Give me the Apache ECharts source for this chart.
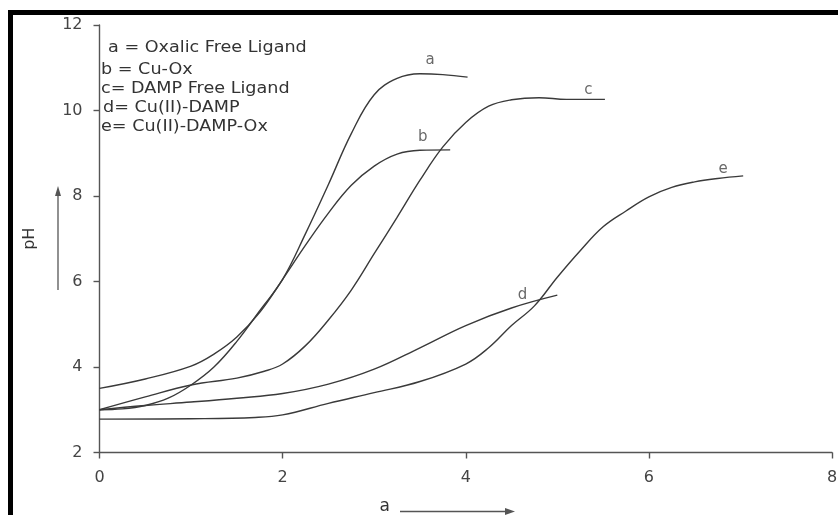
<!DOCTYPE html>
<html>
<head>
<meta charset="utf-8">
<script src="https://cdn.jsdelivr.net/npm/echarts@6/dist/echarts.min.js"></script>
<style>
html,body{margin:0;padding:0;background:#fff;}
#chart{width:838px;height:515px;}
</style>
</head>
<body>
<div id="chart"></div>
<script>
// ---- data ----
const xTicks = [0, 2, 4, 6, 8];
const yTicks = [2, 4, 6, 8, 10, 12];
const curveA = [[0,3.0],[0.25,3.02],[0.5,3.1],[0.75,3.27],[1.0,3.58],[1.25,4.0],[1.5,4.6],[1.75,5.32],[2.0,6.05],[2.25,7.12],[2.5,8.27],[2.75,9.46],[3.0,10.37],[3.25,10.75],[3.5,10.86],[3.75,10.84],[4.02,10.78]];
const curveB = [[0,3.5],[0.5,3.72],[1.0,4.02],[1.25,4.3],[1.5,4.7],[1.75,5.28],[2.0,6.05],[2.25,6.85],[2.5,7.6],[2.75,8.25],[3.0,8.7],[3.25,8.98],[3.5,9.07],[3.83,9.08]];
const curveC = [[0,3.0],[0.5,3.3],[1.0,3.58],[1.5,3.74],[1.8,3.9],[2.0,4.07],[2.25,4.5],[2.5,5.1],[2.75,5.8],[3.0,6.65],[3.25,7.5],[3.5,8.37],[3.75,9.15],[4.0,9.72],[4.25,10.1],[4.5,10.25],[4.8,10.3],[5.1,10.26],[5.52,10.26]];
const curveD = [[0,3.0],[0.5,3.1],[1.0,3.18],[1.5,3.27],[2.0,3.38],[2.5,3.6],[3.0,3.95],[3.5,4.45],[4.0,4.97],[4.5,5.38],[5.0,5.68]];
const curveE = [[0,2.78],[1.0,2.79],[1.7,2.82],[2.0,2.88],[2.5,3.15],[3.0,3.4],[3.5,3.66],[4.0,4.07],[4.25,4.45],[4.5,4.97],[4.75,5.43],[5.0,6.1],[5.25,6.72],[5.5,7.28],[5.75,7.65],[6.0,7.98],[6.25,8.2],[6.5,8.33],[6.75,8.41],[7.03,8.47]];
const curveNames = ['a', 'b', 'c', 'd', 'e'];
const curveLabelPos = [[3.61,11.18],[3.53,9.38],[5.34,10.48],[4.62,5.68],[6.81,8.63]];
const legendLines = ['a = Oxalic Free Ligand', 'b = Cu-Ox', 'c= DAMP Free Ligand', 'd= Cu(II)-DAMP', 'e= Cu(II)-DAMP-Ox'];
const xTitle = 'a';
const yTitle = 'pH';

// ---- chart ----
const chart = echarts.init(document.getElementById('chart'), null, {renderer: 'canvas'});
const ink = '#3a3a3a';
const font = 'DejaVu Sans';
const curves = [curveA, curveB, curveC, curveD, curveE];

const series = curves.map((d, i) => ({
  type: 'line',
  name: curveNames[i],
  data: d,
  smooth: 0.4,
  symbol: 'none',
  lineStyle: {color: ink, width: 1.4},
  z: 3
}));
series.push({
  type: 'scatter',
  data: curveLabelPos.map((p, i) => ({value: p, name: curveNames[i]})),
  symbolSize: 0,
  label: {show: true, position: 'inside', formatter: '{b}', color: '#444', fontSize: 15, fontFamily: font},
  silent: true,
  z: 4
});

const legendX = [108, 101, 101, 103, 101];
const legendY = [48, 70, 89, 108, 127];

const graphics = [
  {type: 'rect', shape: {x: 10.5, y: 12.5, width: 900, height: 600}, style: {fill: 'none', stroke: '#000', lineWidth: 5}, z: 10},
  // y-title arrow
  {type: 'line', shape: {x1: 58, y1: 290, x2: 58, y2: 192}, style: {stroke: '#555', lineWidth: 1.3}},
  {type: 'polygon', shape: {points: [[58, 186], [55, 196], [61, 196]]}, style: {fill: '#555'}},
  // x-title arrow
  {type: 'line', shape: {x1: 400, y1: 511.5, x2: 508, y2: 511.5}, style: {stroke: '#555', lineWidth: 1.3}},
  {type: 'polygon', shape: {points: [[515, 511.5], [505, 508], [505, 515]]}, style: {fill: '#555'}}
];
legendLines.forEach((t, i) => {
  graphics.push({
    type: 'text', x: legendX[i], y: legendY[i], scaleX: 1.1,
    style: {text: t, fill: '#333', font: '16px "' + font + '"', textVerticalAlign: 'middle', textAlign: 'left'}
  });
});

chart.setOption({
  backgroundColor: '#fff',
  animation: false,
  grid: {left: 99.5, right: 6, top: 25, bottom: 62.5, outerBoundsMode: 'none', containLabel: false},
  xAxis: {
    type: 'value', min: xTicks[0], max: xTicks[xTicks.length - 1], interval: 2,
    name: xTitle, nameLocation: 'middle', nameGap: 46,
    nameTextStyle: {color: '#333', fontSize: 17, fontFamily: font, padding: [0, 162, 0, 0]},
    axisLine: {show: true, lineStyle: {color: '#555', width: 1.4}},
    axisTick: {show: true, inside: false, length: 6, lineStyle: {color: '#555', width: 1.4}},
    axisLabel: {color: '#444', fontSize: 16, fontFamily: font, margin: 17},
    splitLine: {show: false}
  },
  yAxis: {
    type: 'value', min: yTicks[0], max: yTicks[yTicks.length - 1], interval: 2,
    name: yTitle, nameLocation: 'middle', nameGap: 62, nameRotate: 90,
    nameTextStyle: {color: '#333', fontSize: 16, fontFamily: font},
    axisLine: {show: true, lineStyle: {color: '#555', width: 1.4}},
    axisTick: {show: true, inside: false, length: 6, lineStyle: {color: '#555', width: 1.4}},
    axisLabel: {color: '#444', fontSize: 16, fontFamily: font, margin: 17},
    splitLine: {show: false}
  },
  series: series,
  graphic: graphics
});
</script>
</body>
</html>
